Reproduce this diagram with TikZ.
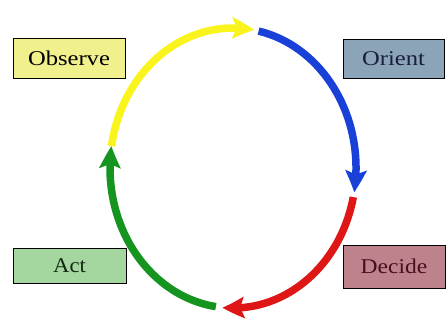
\documentclass[tikz,border=0pt]{standalone}
\usepackage{fontspec}
\setmainfont{Liberation Serif}
\usetikzlibrary{arrows.meta,bending}
\definecolor{cyel}{RGB}{250,244,30}
\definecolor{cblu}{RGB}{25,65,215}
\definecolor{cred}{RGB}{222,22,22}
\definecolor{cgrn}{RGB}{22,148,32}
\definecolor{fobs}{RGB}{240,240,140}
\definecolor{fori}{RGB}{140,164,184}
\definecolor{fact}{RGB}{165,214,160}
\definecolor{fdec}{RGB}{190,130,140}
\begin{document}
\begin{tikzpicture}[x=1pt,y=1pt,
  labelbox/.style={draw=black, line width=1pt, inner sep=0pt, font=\fontsize{21}{23}\selectfont},
  loop arc/.style={line width=7.5pt, -{Stealth[length=22pt,width=21pt,inset=4pt,bend]}},
  ell/.style={x radius=123pt, y radius=140pt}]
\useasboundingbox (0,0) rectangle (448,325);
\fill[white] (0,0) rectangle (448,325);
\coordinate (c) at (233,157);
% boxes
\node[labelbox, fill=fobs, minimum width=112pt, minimum height=40pt, text=black] (obs) at (69,267) {\scalebox{1.17}[1]{Observe}};
\node[labelbox, fill=fori, minimum width=101pt, minimum height=39pt, text={rgb,255:red,25;green,30;blue,60}] (ori) at (393.5,266.5) {\scalebox{1.17}[1]{Orient}};
\node[labelbox, fill=fact, minimum width=113pt, minimum height=35pt, text={rgb,255:red,15;green,40;blue,15}] (act) at (69.5,59.5) {\scalebox{1.08}[1]{Act}};
\node[labelbox, fill=fdec, minimum width=102pt, minimum height=43pt, text={rgb,255:red,70;green,15;blue,30}] (dec) at (394,58.5) {\scalebox{1.12}[1]{Decide}};
% cycle arcs
\draw[loop arc, cyel] ([shift={(171:123pt and 140pt)}]c) arc[ell, start angle=171, end angle=80];
\draw[loop arc, cblu] ([shift={(78:123pt and 140pt)}]c) arc[ell, start angle=78, end angle=-10];
\draw[loop arc, cred] ([shift={(-12:123pt and 140pt)}]c) arc[ell, start angle=-12, end angle=-95];
\draw[loop arc, cgrn] ([shift={(-98:123pt and 140pt)}]c) arc[ell, start angle=-98, end angle=-189];
\end{tikzpicture}
\end{document}
